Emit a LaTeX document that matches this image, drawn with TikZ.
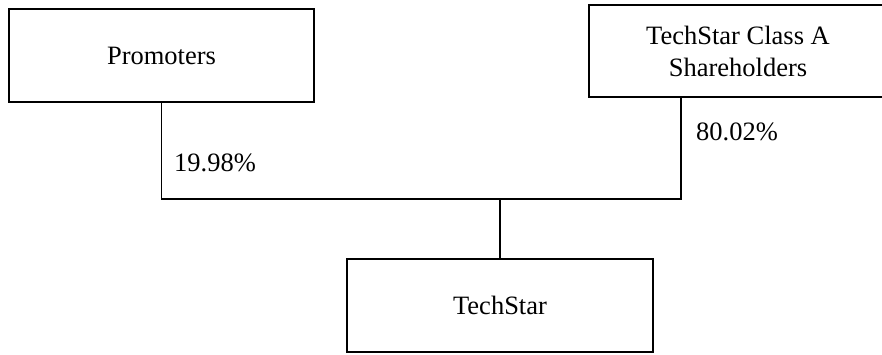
\documentclass[tikz,border=0pt]{standalone}
\usepackage{fontspec}
\setmainfont{Liberation Serif}
\tikzset{
  box/.style={draw, line width=1.6pt, inner sep=0pt, align=center, font=\fontsize{26.5}{32}\selectfont},
  lbl/.style={inner sep=0pt, font=\fontsize{26.5}{32}\selectfont},
  conn/.style={line width=1.6pt}
}
\begin{document}
\begin{tikzpicture}[x=1pt,y=-1pt]
\useasboundingbox (0,0) rectangle (882,355);
\clip (0,0) rectangle (882,355);
\fill[white] (0,0) rectangle (882,355);
\node[box, minimum width=305pt, minimum height=93pt] (prom) at (161.5,55.5) {Promoters};
\node[box, minimum width=298pt, minimum height=92pt] (sh) at (738,51) {TechStar Class A\\Shareholders};
\node[box, minimum width=306pt, minimum height=93pt] (ts) at (500,305.5) {TechStar};
\coordinate (j) at (500,199);
\draw[conn] (prom.south) |- (j) -| ([xshift=93pt]sh.south west);
\draw[conn] (j) -- (ts.north);
\node[lbl] (p1) at (215,163) {19.98\%};
\node[lbl] (p2) at (737,132) {80.02\%};
\end{tikzpicture}
\end{document}
